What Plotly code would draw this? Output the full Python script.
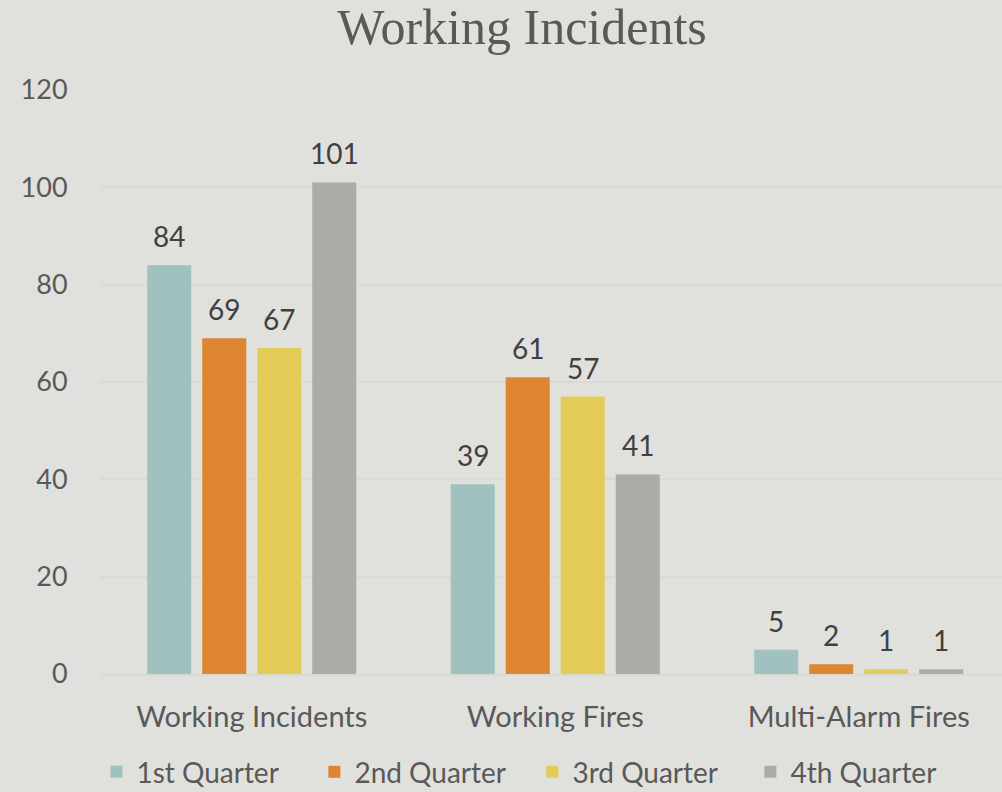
import plotly.graph_objects as go

categories = ["Working Incidents", "Working Fires", "Multi-Alarm Fires"]
series_names = ["1st Quarter", "2nd Quarter", "3rd Quarter", "4th Quarter"]
q1 = [84, 39, 5]
q2 = [69, 61, 2]
q3 = [67, 57, 1]
q4 = [101, 41, 1]
colors = ["#a0c1c0", "#dd8530", "#e4cb58", "#abaca6"]
y_ticks = [0, 20, 40, 60, 80, 100, 120]

FONT = "Lato, Open Sans, sans-serif"
fig = go.Figure()
annotations = []
n = len(series_names)
for i, (name, vals, col) in enumerate(zip(series_names, [q1, q2, q3, q4], colors)):
    fig.add_trace(go.Bar(
        x=categories, y=vals, name=name,
        marker=dict(color=col, line=dict(width=0)),
        cliponaxis=False,
    ))
    for cat, v in zip(categories, vals):
        annotations.append(dict(
            x=cat, y=v, xref="x", yref="y", text=str(v), showarrow=False,
            xshift=(i - (n - 1) / 2) * 55.0, yshift=29, yanchor="middle",
            font=dict(family=FONT, size=28, color="#404040"),
        ))

fig.update_layout(
    width=1002, height=792,
    paper_bgcolor="#e0e1dc", plot_bgcolor="#e0e1dc",
    barmode="group", bargap=0.275, bargroupgap=0.2,
    title=dict(text="Working Incidents", x=0.521, xanchor="center", y=0.966, yanchor="middle",
               font=dict(family="Liberation Serif, Times New Roman, serif", size=50, color="#595959")),
    margin=dict(l=100, r=0, t=90, b=118, autoexpand=False),
    showlegend=True,
    legend=dict(orientation="h", x=-0.004, xanchor="left", y=-0.168, yanchor="middle",
                font=dict(family=FONT, size=28, color="#595959"), itemwidth=30,
                entrywidth=173, entrywidthmode="pixels",
                traceorder="normal"),
    annotations=annotations,
)
fig.update_yaxes(range=[0, 120], tickvals=y_ticks, showgrid=True, gridcolor="#d9dad5", gridwidth=2,
                 zeroline=False, showline=False, ticks="outside", ticklen=26,
                 tickcolor="rgba(0,0,0,0)",
                 tickfont=dict(family=FONT, size=27, color="#595959"))
fig.update_xaxes(range=[-0.5, 2.472], showline=True, linecolor="#d9dad5", linewidth=2,
                 ticks="outside", ticklen=16, tickcolor="rgba(0,0,0,0)",
                 tickfont=dict(family=FONT, size=29, color="#595959"))

fig.write_html("out.html", config={"displayModeBar": False},
               post_script="document.body.style.margin='0';")
